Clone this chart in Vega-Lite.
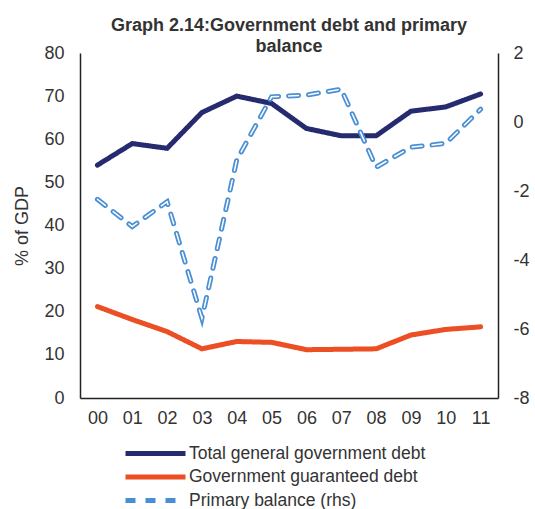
{
  "$schema": "https://vega.github.io/schema/vega-lite/v6.json",
  "width": 418,
  "height": 345,
  "padding": {"left": 13, "top": 17, "right": 2, "bottom": 0},
  "config": {
    "font": "Liberation Sans",
    "view": {"stroke": null},
    "axis": {"grid": false, "ticks": false, "domainColor": "#222222", "domainWidth": 1.5, "labelColor": "#333333", "labelFontSize": 18, "titleFontSize": 18, "titleFontWeight": "normal", "titleColor": "#333333"},
    "legend": {"orient": "none", "legendX": 63, "legendY": 388, "direction": "vertical", "title": null, "labelFontSize": 17.5, "labelColor": "#333333", "symbolType": "M-3,0H3", "symbolSize": 400, "symbolStrokeWidth": 5, "rowPadding": 0.5, "labelOffset": 21, "labelLimit": 400}
  },
  "title": {
    "text": ["Graph 2.14:Government debt and primary", "balance"],
    "fontSize": 18,
    "fontWeight": "bold",
    "color": "#333333",
    "anchor": "middle",
    "lineHeight": 21,
    "offset": -12
  },
  "data": {
    "values": [
      {"year": "00", "Total general government debt": 54.0, "Government guaranteed debt": 21.2, "Primary balance (rhs)": -2.24},
      {"year": "01", "Total general government debt": 59.0, "Government guaranteed debt": 18.2, "Primary balance (rhs)": -3.03},
      {"year": "02", "Total general government debt": 57.9, "Government guaranteed debt": 15.4, "Primary balance (rhs)": -2.31},
      {"year": "03", "Total general government debt": 66.2, "Government guaranteed debt": 11.4, "Primary balance (rhs)": -5.69},
      {"year": "04", "Total general government debt": 70.0, "Government guaranteed debt": 13.1, "Primary balance (rhs)": -1.1},
      {"year": "05", "Total general government debt": 68.3, "Government guaranteed debt": 12.9, "Primary balance (rhs)": 0.73},
      {"year": "06", "Total general government debt": 62.5, "Government guaranteed debt": 11.2, "Primary balance (rhs)": 0.78},
      {"year": "07", "Total general government debt": 60.8, "Government guaranteed debt": 11.3, "Primary balance (rhs)": 0.95},
      {"year": "08", "Total general government debt": 60.8, "Government guaranteed debt": 11.4, "Primary balance (rhs)": -1.31},
      {"year": "09", "Total general government debt": 66.5, "Government guaranteed debt": 14.6, "Primary balance (rhs)": -0.73},
      {"year": "10", "Total general government debt": 67.5, "Government guaranteed debt": 15.9, "Primary balance (rhs)": -0.62},
      {"year": "11", "Total general government debt": 70.5, "Government guaranteed debt": 16.5, "Primary balance (rhs)": 0.37}
    ]
  },
  "encoding": {
    "x": {
      "field": "year", "type": "ordinal",
      "scale": {"type": "point", "padding": 0.5},
      "axis": {"title": null, "labelAngle": 0, "labelPadding": 11}
    }
  },
  "layer": [
    {
      "transform": [{"fold": ["Total general government debt", "Government guaranteed debt"], "as": ["series", "value"]}],
      "mark": {"type": "line", "strokeWidth": 5, "strokeCap": "round"},
      "encoding": {
        "y": {"field": "value", "type": "quantitative", "scale": {"domain": [0, 80]}, "axis": {"title": "% of GDP", "values": [0, 10, 20, 30, 40, 50, 60, 70, 80], "labelPadding": 16, "titlePadding": 12}},
        "color": {"field": "series", "type": "nominal", "sort": null,
          "scale": {"domain": ["Total general government debt", "Government guaranteed debt", "Primary balance (rhs)"], "range": ["#262A6E", "#EB4F23", "#4A8FD4"]}},
        "strokeDash": {"field": "series", "type": "nominal",
          "scale": {"domain": ["Total general government debt", "Government guaranteed debt", "Primary balance (rhs)"], "range": [[1, 0], [1, 0], [10, 10]]}}
      }
    },
    {
      "transform": [{"fold": ["Primary balance (rhs)"], "as": ["series", "value"]}],
      "layer": [
        {
          "mark": {"type": "line", "strokeWidth": 5, "strokeCap": "round"},
          "encoding": {
            "y": {"field": "value", "type": "quantitative", "scale": {"domain": [-8, 2]}, "axis": {"orient": "right", "title": null, "values": [-8, -6, -4, -2, 0, 2], "labelPadding": 15, "labelExpr": "'' + datum.value"}},
            "color": {"field": "series", "type": "nominal"},
            "strokeDash": {"field": "series", "type": "nominal"}
          }
        },
        {
          "mark": {"type": "line", "strokeWidth": 1.5, "strokeCap": "round", "color": "white", "strokeDash": [10, 10]},
          "encoding": {
            "y": {"field": "value", "type": "quantitative"}
          }
        }
      ]
    }
  ],
  "resolve": {"scale": {"y": "independent"}}
}
